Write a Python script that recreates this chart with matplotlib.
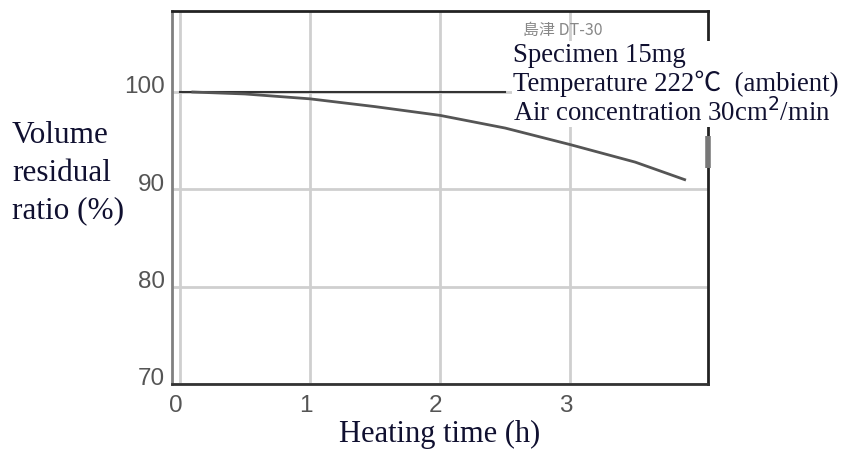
import matplotlib
matplotlib.use("Agg")
import matplotlib.pyplot as plt
from matplotlib.transforms import ScaledTranslation

# Residual volume of the specimen during heating
hours = [0.1, 0.5, 1.0, 1.5, 2.0, 2.5, 3.0, 3.5, 3.88]
residual = [100.0, 99.8, 99.3, 98.5, 97.6, 96.3, 94.6, 92.8, 91.0]

x_ticks = [0, 1, 2, 3]
y_ticks = [70, 80, 90, 100]

reference_level = 100
reference_span = [0.0, 2.5]

note_lines = ["Specimen 15mg",
              "Temperature 222\u2103  (ambient)",
              "Air concentration 30cm$^2$/min"]

serif = ["Liberation Serif", "Noto Sans CJK JP", "DejaVu Sans"]
sans = ["Liberation Sans", "DejaVu Sans"]

fig = plt.figure(figsize=(8.49, 4.52), dpi=100)
ax = fig.add_axes([0.2026, 0.148, 0.6314, 0.825])

ax.set_xlim(-0.06, 4.06)
ax.set_ylim(70, 108.3)

ax.set_xticks(x_ticks)
ax.set_yticks(y_ticks)
ax.tick_params(length=0, labelsize=17.5, labelcolor="#555555")
ax.tick_params(axis="y", pad=5)
ax.tick_params(axis="x", pad=7)

# tick labels sit slightly up (y) and left (x) of their grid lines
y_shift = ScaledTranslation(0, 6 / 72, fig.dpi_scale_trans)
x_shift = ScaledTranslation(-3 / 72, 0, fig.dpi_scale_trans)
for tick in ax.yaxis.get_major_ticks():
    tick.label1.set_family(sans)
    tick.label1.set_transform(tick.label1.get_transform() + y_shift)
for tick in ax.xaxis.get_major_ticks():
    tick.label1.set_family(sans)
    tick.label1.set_transform(tick.label1.get_transform() + x_shift)

ax.grid(True, color="#cfcfcf", linewidth=2.0)
ax.set_axisbelow(True)

for side, col in {"left": "#808080", "bottom": "#333333",
                  "right": "#222222", "top": "#222222"}.items():
    ax.spines[side].set_color(col)
    ax.spines[side].set_linewidth(2.0)

ax.plot(reference_span, [reference_level, reference_level],
        color="#333333", linewidth=1.5, zorder=3)
ax.plot(hours, residual, color="#555555", linewidth=2.0, zorder=3)

# short heavy mark on the right frame
ax.plot([4.06, 4.06], [95.5, 92.2], color="#777777", linewidth=4,
        solid_capstyle="butt", clip_on=False, zorder=4)

fig.text(523 / 849, 1 - 30 / 452, "島津 DT-30",
         fontsize=11.5, color="#888888", va="center", ha="left",
         family=["Noto Sans CJK JP", "DejaVu Sans"], zorder=5)

fig.text(513 / 849, 1 - 43 / 452, "\n".join(note_lines),
         fontsize=19.3, family=serif, color="#101030",
         va="top", ha="left", linespacing=1.1, zorder=6,
         bbox=dict(facecolor="white", edgecolor="none", pad=0.5))

fig.text(12 / 849, 1 - 121 / 452, "Volume\nresidual\nratio (%)",
         fontsize=22.5, family=serif, color="#101030", va="top",
         ha="left", linespacing=1.4)

ax.set_xlabel("Heating time (h)", fontsize=22, family=serif,
              color="#101030", labelpad=2)

fig.savefig("out.png", dpi=100, facecolor="white")
